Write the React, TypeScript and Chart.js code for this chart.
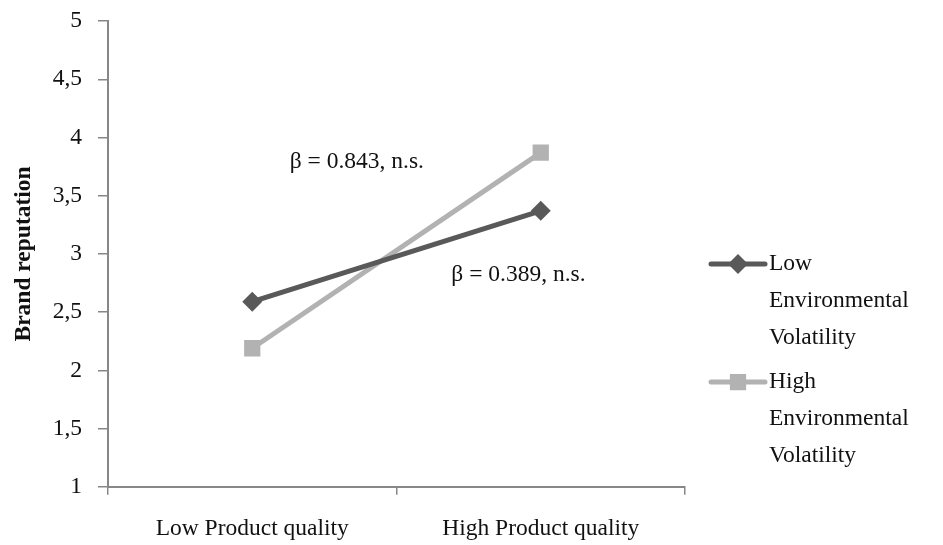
import React, { useEffect, useRef } from 'react';
import { Chart, registerables } from 'chart.js';

Chart.register(...registerables);

const categories = ['Low Product quality', 'High Product quality'];
const seriesNames = ['Low Environmental Volatility', 'High Environmental Volatility'];
const lowVolatility = [2.59, 3.37];
const highVolatility = [2.19, 3.87];
const yMin = 1;
const yMax = 5;
const yStep = 0.5;
const yTitle = 'Brand reputation';
const annotationTexts = ['β = 0.843, n.s.', 'β = 0.389, n.s.'];
const annotationX = [0.13, 0.69];
const annotationY = [3.79, 2.82];

const FONT = "'Liberation Serif', serif";
const FS = 23.5;
const DARK = '#595959';
const LIGHT = '#b2b2b2';
const AXIS = '#878787';
const SHIFT = 9;

function drawMarker(ctx: CanvasRenderingContext2D, style: string, x: number, y: number, r: number, color: string) {
  ctx.save();
  ctx.fillStyle = color;
  ctx.beginPath();
  if (style === 'rectRot') {
    ctx.moveTo(x - r, y);
    ctx.lineTo(x, y - r);
    ctx.lineTo(x + r, y);
    ctx.lineTo(x, y + r);
    ctx.closePath();
  } else {
    const s = r * Math.SQRT1_2;
    ctx.rect(x - s, y - s, 2 * s, 2 * s);
  }
  ctx.fill();
  ctx.restore();
}

const annotationPlugin = {
  id: 'betaAnnotations',
  afterDatasetsDraw(chart: any) {
    const { ctx, scales } = chart;
    ctx.save();
    ctx.font = `${FS}px ${FONT}`;
    ctx.fillStyle = '#111';
    ctx.textAlign = 'left';
    ctx.textBaseline = 'middle';
    annotationTexts.forEach((t, i) => {
      ctx.fillText(t, scales.x.getPixelForValue(annotationX[i]), scales.y.getPixelForValue(annotationY[i]));
    });
    ctx.restore();
  },
};

const sideLegendPlugin = {
  id: 'sideLegend',
  afterDraw(chart: any) {
    const { ctx, chartArea } = chart;
    const lineH = 37;
    const itemGap = 7;
    let y = chartArea.top + 243;
    const x0 = chartArea.right + 26;
    const x1 = chartArea.right + 80;
    ctx.save();
    ctx.font = `${FS}px ${FONT}`;
    ctx.textAlign = 'left';
    ctx.textBaseline = 'middle';
    chart.data.datasets.forEach((ds: any) => {
      ctx.strokeStyle = ds.borderColor;
      ctx.lineWidth = 5;
      ctx.lineCap = 'round';
      ctx.beginPath();
      ctx.moveTo(x0, y);
      ctx.lineTo(x1, y);
      ctx.stroke();
      drawMarker(ctx, ds.pointStyle, (x0 + x1) / 2, y, ds.pointRadius, ds.backgroundColor);
      ctx.fillStyle = '#111';
      const words = String(ds.label).split(' ');
      words.forEach((w: string) => {
        ctx.fillText(w, x1 + 4, y);
        y += lineH;
      });
      y += itemGap;
    });
    ctx.restore();
  },
};

export default function App() {
  const ref = useRef<HTMLCanvasElement | null>(null);
  useEffect(() => {
    document.body.style.margin = '0';
    const chart = new Chart(ref.current as HTMLCanvasElement, {
      type: 'line',
      data: {
        labels: categories,
        datasets: [
          {
            label: seriesNames[0],
            data: lowVolatility,
            borderColor: DARK,
            backgroundColor: DARK,
            borderWidth: 5,
            pointStyle: 'rectRot',
            pointRadius: 10,
            pointHoverRadius: 10,
            pointBorderWidth: 0,
          },
          {
            label: seriesNames[1],
            data: highVolatility,
            borderColor: LIGHT,
            backgroundColor: LIGHT,
            borderWidth: 5,
            pointStyle: 'rect',
            pointRadius: 11.5,
            pointHoverRadius: 11.5,
            pointBorderWidth: 0,
          },
        ],
      },
      options: {
        responsive: false,
        animation: false,
        layout: { padding: { left: 10, right: 258, top: 0, bottom: -18 } },
        plugins: {
          legend: { display: false },
          tooltip: { enabled: false },
        },
        scales: {
          x: {
            offset: true,
            grid: { display: true, offset: true, drawOnChartArea: false, drawTicks: true, tickLength: 8, color: AXIS, lineWidth: 1.5 },
            border: { display: true, color: AXIS, width: 2 },
            ticks: { color: '#111', font: { family: FONT, size: FS }, padding: 20, maxRotation: 0 },
          },
          y: {
            min: yMin,
            max: yMax,
            afterFit: (scale: any) => { scale.width = 98; },
            grid: { display: true, drawOnChartArea: false, drawTicks: true, tickLength: 10, color: AXIS, lineWidth: 1.5 },
            border: { display: true, color: AXIS, width: 2 },
            ticks: {
              stepSize: yStep,
              color: '#111',
              font: { family: FONT, size: FS },
              padding: 16,
              callback: (v: any) => String(v).replace('.', ','),
            },
            title: { display: true, text: yTitle, color: '#111', font: { family: FONT, size: FS, weight: 'bold' }, padding: { top: 0, bottom: 10 } },
          },
        },
      },
      plugins: [annotationPlugin, sideLegendPlugin],
    });
    return () => chart.destroy();
  }, []);
  return (
    <div style={{ width: 943, height: 545, overflow: 'hidden' }}>
      <canvas ref={ref} width={943} height={545 + SHIFT} style={{ display: 'block', marginTop: -SHIFT }} />
    </div>
  );
}
